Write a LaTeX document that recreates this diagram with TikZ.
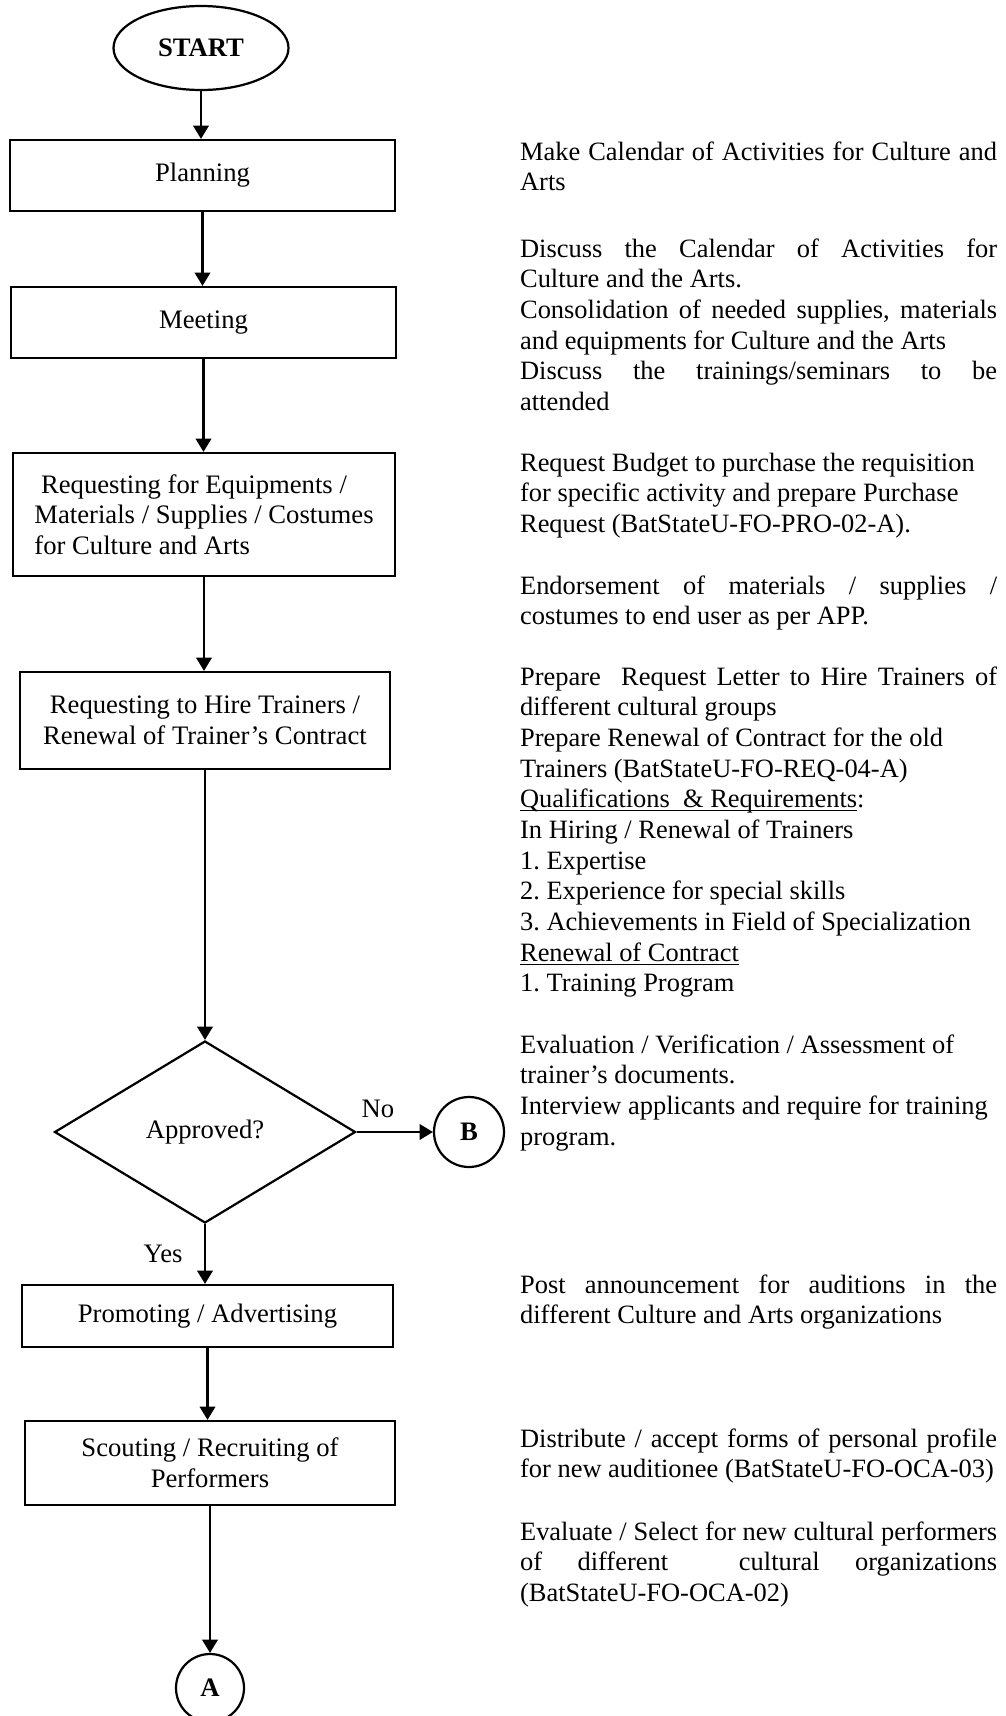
\documentclass[tikz,border=0pt]{standalone}
\usepackage{fontspec}
\setmainfont{Liberation Serif}
\usetikzlibrary{shapes.geometric,arrows.meta}

\newdimen\pxu \pxu=0.45pt
\newcommand\ulbase[1]{\underline{\smash{#1}}}
\frenchspacing
\hyphenpenalty=10000
\exhyphenpenalty=10000

\begin{document}
\begin{tikzpicture}[x=0.45pt, y=-0.45pt, line width=1pt,
		font=\fontsize{12}{13.8}\selectfont,
		box/.style={draw, rectangle, inner sep=0pt},
		conn/.style={draw, circle, minimum size=70\pxu, inner sep=0pt, font=\fontsize{12}{13.8}\selectfont\bfseries},
		arr/.style={-{Triangle[length=6pt,width=7pt]}},
		note/.style={anchor=base west, text width=477\pxu, align=justify, inner sep=0pt, font=\fontsize{11.9}{13.8}\selectfont}]
		\useasboundingbox (0,0) rectangle (1005,1716);
		
		% flow
		\node[draw, ellipse, minimum width=175\pxu, minimum height=84\pxu, font=\fontsize{12}{13.8}\selectfont\bfseries] (start) at (201,48) {START};
		\node[box, minimum width=385\pxu, minimum height=71\pxu] (plan) at (202.5,175.5) {Planning};
		\node[box, minimum width=385\pxu, minimum height=71\pxu] (meet) at (203.5,322.5) {Meeting};
		\node[box, minimum width=382\pxu, minimum height=123\pxu, align=left] (req) at (204,514.5) {\hspace{0.25em}Requesting for Equipments /\\Materials / Supplies / Costumes\\for Culture and Arts};
		\node[box, minimum width=370\pxu, minimum height=97\pxu, align=center] (hire) at (205,720.5) {Requesting to Hire Trainers /\\Renewal of Trainer’s Contract};
		\node[draw, diamond, minimum width=301\pxu, minimum height=182\pxu, inner sep=0pt] (dec) at (205,1132) {Approved?};
		\node[conn] (B) at (469,1132) {B};
		\node[box, minimum width=371\pxu, minimum height=62\pxu] (prom) at (207.5,1316) {Promoting / Advertising};
		\node[box, minimum width=370\pxu, minimum height=84\pxu, align=center] (scout) at (210,1463) {Scouting / Recruiting of\\Performers};
		\node[conn, minimum size=68\pxu] (A) at (210,1688) {A};
		
		\draw[arr] (start.south) -- (start.south |- plan.north);
		\draw[arr] (plan.south) -- (plan.south |- meet.north);
		\draw[arr] (meet.south) -- (meet.south |- req.north);
		\draw[arr] (req.south) -- (req.south |- hire.north);
		\draw[arr] (hire.south) -- (hire.south |- dec.north);
		\draw[arr] (dec.east) -- node[above=6\pxu, pos=.28] {No} (B.west);
		\draw[arr] (dec.south) -- node[left=14\pxu] {Yes} (dec.south |- prom.north);
		\draw[arr] (prom.south) -- (prom.south |- scout.north);
		\draw[arr] (scout.south) -- (scout.south |- A.north);
		
		% notes
		\node[note] (t1) at (519,160) {Make Calendar of Activities for Culture and\linebreak Arts};
		\node[note] (t2) at (519,257) {Discuss the Calendar of Activities for\linebreak Culture and the Arts.\newline
			Consolidation of needed supplies, materials\linebreak and equipments for Culture and the Arts\newline
			Discuss the trainings/seminars to be\linebreak attended};
		\node[note] (t3) at (519,471) {Request Budget to purchase the requisition\newline for specific activity and prepare Purchase\newline Request (BatStateU-FO-PRO-02-A).};
		\node[note] (t4) at (519,594) {Endorsement of materials / supplies /\linebreak costumes to end user as per APP.};
		\node[note] (t5) at (519,685) {Prepare\ \ Request Letter to Hire Trainers of\linebreak different cultural groups\newline
			Prepare Renewal of Contract for the old\newline Trainers (BatStateU-FO-REQ-04-A)\newline
			\ulbase{Qualifications\ \ \& Requirements}:\newline In Hiring / Renewal of Trainers\newline
			1. Expertise\newline 2. Experience for special skills\newline 3. Achievements in Field of Specialization\newline
			\ulbase{Renewal of Contract}\newline 1. Training Program};
		\node[note] (t6) at (519,1053) {Evaluation / Verification / Assessment of\newline trainer’s documents.\newline
			Interview applicants and require for training\newline program.};
		\node[note] (t7) at (519,1293) {Post announcement for auditions in the\linebreak different Culture and Arts organizations};
		\node[note] (t8) at (519,1447) {Distribute / accept forms of personal profile\linebreak for new auditionee (BatStateU-FO-OCA-03)};
		\node[note] (t9) at (519,1540) {Evaluate / Select for new cultural performers\linebreak
			of\hfill different\hfill\hfill cultural\hfill organizations\linebreak (BatStateU-FO-OCA-02)};
\end{tikzpicture}
\end{document}
